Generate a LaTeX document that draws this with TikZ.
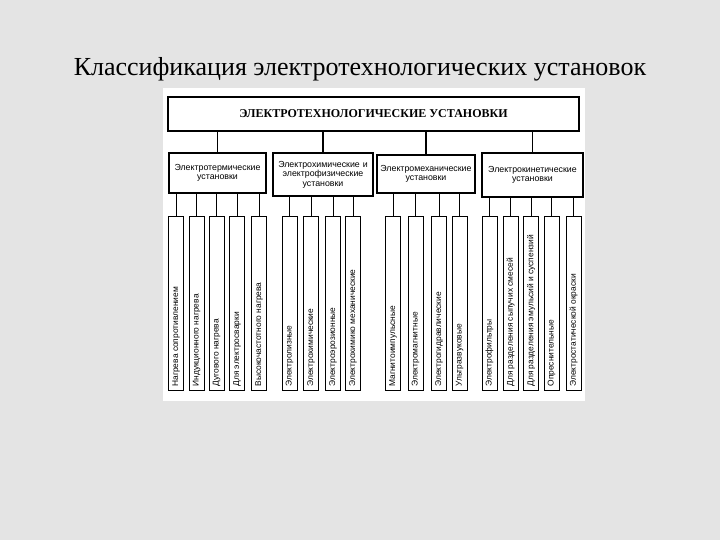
\documentclass[tikz,border=0pt]{standalone}
\usepackage{fontspec}
\setmainfont{Liberation Serif}
\newfontfamily\diagsans{Liberation Sans}
\definecolor{bgcol}{RGB}{228,228,228}
\newcommand\leaftext[1]{\makebox[166pt][l]{#1}}
\begin{document}
\begin{tikzpicture}[x=1pt,y=-1pt,
  topbox/.style={draw, line width=1.8pt, minimum width=411pt, minimum height=34pt, inner sep=0pt,
    font=\bfseries\fontsize{12}{14}\selectfont},
  grpbox/.style={draw, line width=1.3pt, inner sep=1pt, align=center,
    font=\diagsans\fontsize{8.8}{9.6}\selectfont},
  leafbox/.style={draw, line width=1pt, rotate=90, minimum width=173pt, minimum height=15pt,
    inner sep=0pt, font=\diagsans\fontsize{8.4}{9}\selectfont},
  conn/.style={line width=0.9pt}]
\fill[bgcol] (0,0) rectangle (720,540);
\useasboundingbox (0,0) rectangle (720,540);
\fill[white] (163,88) rectangle (585,401);

\node[anchor=base, font=\fontsize{26}{30}\selectfont] (title) at (360,76)
  {Классификация электротехнологических установок};

\node[topbox] (top) at (373.5,114) {ЭЛЕКТРОТЕХНОЛОГИЧЕСКИЕ УСТАНОВКИ};

\node[grpbox, minimum width=97pt, minimum height=40pt, text width=95pt] (g1) at (217.5,173)
  {Электротермические\\установки};
\node[grpbox, minimum width=100pt, minimum height=43pt, text width=98pt] (g2) at (323,174.5)
  {Электрохимические и\\электрофизические\\установки};
\node[grpbox, minimum width=98pt, minimum height=38pt, text width=96pt] (g3) at (426,174)
  {Электромеханические\\установки};
\node[grpbox, minimum width=101pt, minimum height=44pt, text width=99pt] (g4) at (532.5,175)
  {Электрокинетические\\установки};

\foreach \g in {g1,g2,g3,g4}
  \draw[line width=1.2pt] (\g.north) -- (\g.north |- top.south);

\foreach \n/\x/\t in {
  a1/176/{Нагрева сопротивлением},
  a2/196.5/{Индукционного нагрева},
  a3/216.5/{Дугового нагрева},
  a4/237/{Для электросварки},
  a5/259/{Высокочастотного нагрева},
  b1/289.5/{Электролизные},
  b2/311/{Электрохимические},
  b3/333/{Электроэрозионные},
  b4/353/{Электрохимико механические},
  c1/393/{Магнитоимпульсные},
  c2/415.5/{Электромагнитные},
  c3/439/{Электрогидравлические},
  c4/459.5/{Ультразвуковые},
  d1/489.5/{Электрофильтры},
  d2/510.5/{Для разделения сыпучих смесей},
  d3/531/{Для разделения эмульсий и суспензий},
  d4/551.5/{Опреснительные},
  d5/573.5/{Электростатической окраски}}
  \node[leafbox] (\n) at (\x,303.5) {\leaftext{\t}};

\foreach \n/\g in {a1/g1,a2/g1,a3/g1,a4/g1,a5/g1,b1/g2,b2/g2,b3/g2,b4/g2,
  c1/g3,c2/g3,c3/g3,c4/g3,d1/g4,d2/g4,d3/g4,d4/g4,d5/g4}
  \draw[conn] (\n.east |- \g.south) -- (\n.east);
\end{tikzpicture}
\end{document}
